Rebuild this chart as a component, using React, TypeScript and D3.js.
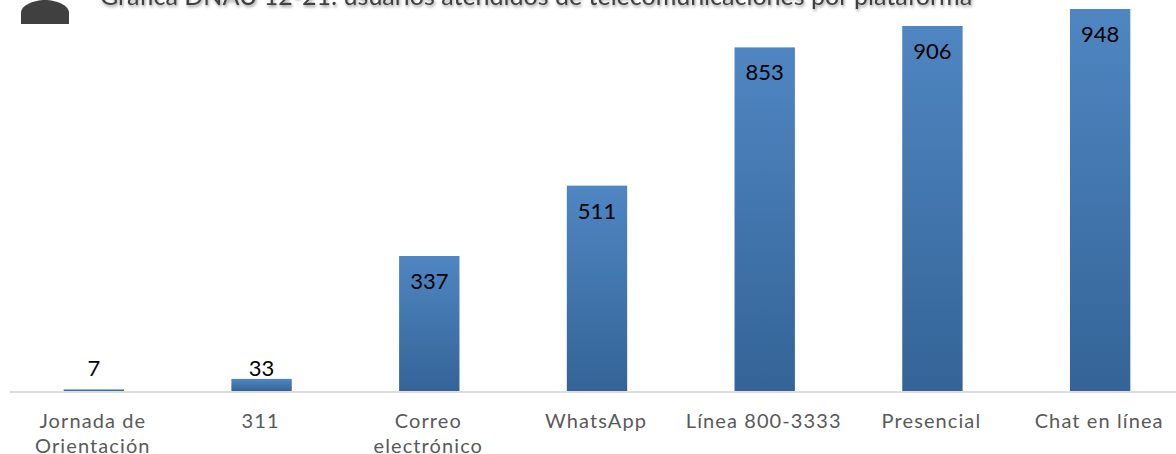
import React, { useRef, useEffect } from "react";
import * as d3 from "d3";

const categories = [
  ["Jornada de", "Orientación"],
  ["311"],
  ["Correo", "electrónico"],
  ["WhatsApp"],
  ["Línea 800-3333"],
  ["Presencial"],
  ["Chat en línea"],
];
const values = [7, 33, 337, 511, 853, 906, 948];
const title = "Gráfica DNAU 12-21: usuarios atendidos de telecomunicaciones por plataforma";

const App = () => {
  const svgRef = useRef<SVGSVGElement>(null);

  useEffect(() => {
    const w = 1176;
    const baseline = 391;
    const font = "Lato, 'Open Sans', sans-serif";

    const svg = d3.select(svgRef.current);
    svg.selectAll("*").remove();

    const defs = svg.append("defs");
    const grad = defs
      .append("linearGradient")
      .attr("id", "barFill")
      .attr("x1", 0)
      .attr("y1", 0)
      .attr("x2", 0)
      .attr("y2", 1);
    grad.append("stop").attr("offset", "0%").attr("stop-color", "#4f86c2");
    grad.append("stop").attr("offset", "100%").attr("stop-color", "#346497");

    const shadow = defs.append("filter").attr("id", "titleShadow");
    shadow
      .append("feDropShadow")
      .attr("dx", 1)
      .attr("dy", 2)
      .attr("stdDeviation", 1.5)
      .attr("flood-color", "#000")
      .attr("flood-opacity", 0.4);

    const xScale = d3
      .scaleBand()
      .domain(categories.map((d) => d.join(" ")))
      .range([10, 1184])
      .padding(0.64)
      .paddingOuter(0.32);

    // bars sit a little lower than zero in the picture, the axis line hides the rest
    const yScale = d3.scaleLinear().domain([3, 948]).range([baseline, 9]);

    // icon cut off by the top edge
    svg
      .append("path")
      .attr("d", "M21 24V13C21 5 34 0 45 0C56 0 69 5 69 13V24Z")
      .attr("fill", "#404040");

    svg
      .append("text")
      .attr("x", 100)
      .attr("y", 5)
      .attr("font-family", font)
      .attr("font-size", 25)
      .attr("fill", "#404040")
      .attr("filter", "url(#titleShadow)")
      .text(title);

    svg
      .selectAll(".bar")
      .data(values)
      .enter()
      .append("rect")
      .attr("class", "bar")
      .attr("x", (_, i) => xScale(categories[i].join(" "))!)
      .attr("y", (d) => yScale(d))
      .attr("width", xScale.bandwidth())
      .attr("height", (d) => baseline - yScale(d))
      .attr("fill", "url(#barFill)");

    // axis line
    svg
      .append("line")
      .attr("x1", 10)
      .attr("x2", w)
      .attr("y1", baseline + 1)
      .attr("y2", baseline + 1)
      .attr("stroke", "#dddddd")
      .attr("stroke-width", 2);

    // value labels, inside the tall bars and above the short ones
    svg
      .selectAll(".value")
      .data(values)
      .enter()
      .append("text")
      .attr("class", "value")
      .attr("x", (_, i) => xScale(categories[i].join(" "))! + xScale.bandwidth() / 2)
      .attr("y", (d) => (d < 100 ? baseline - 15 : yScale(d) + 33))
      .attr("text-anchor", "middle")
      .attr("font-family", font)
      .attr("font-size", 22)
      .attr("fill", "#000")
      .text((d) => d);

    // category labels
    const labels = svg
      .selectAll(".cat")
      .data(categories)
      .enter()
      .append("text")
      .attr("class", "cat")
      .attr("text-anchor", "middle")
      .attr("font-family", font)
      .attr("font-size", 20)
      .attr("letter-spacing", 1.1)
      .attr("fill", "#595959");

    labels
      .selectAll("tspan")
      .data((d) => d)
      .enter()
      .append("tspan")
      .attr("x", function () {
        const parent = (this as SVGTSpanElement).parentNode as any;
        const d = d3.select(parent).datum() as string[];
        return xScale(d.join(" "))! + xScale.bandwidth() / 2 - 1;
      })
      .attr("y", (_, i) => 428 + i * 25)
      .text((d) => d);
  }, []);

  return (
    <svg
      ref={svgRef}
      width={1176}
      height={454}
      style={{ position: "absolute", left: 0, top: 0, background: "#fff" }}
    />
  );
};

export default App;
